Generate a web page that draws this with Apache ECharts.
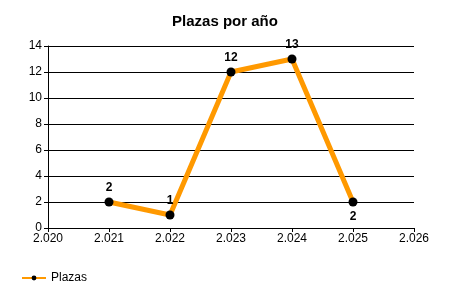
<!DOCTYPE html>
<html>
<head>
<meta charset="utf-8">
<script src="https://cdn.jsdelivr.net/npm/echarts@6/dist/echarts.min.js"></script>
<style>
  html, body { margin: 0; padding: 0; background: #fff; }
  #chart { width: 450px; height: 300px; }
</style>
</head>
<body>
<div id="chart"></div>
<script>
document.addEventListener('DOMContentLoaded', function() {

    const years = [2021, 2022, 2023, 2024, 2025];
    const plazas = [2, 1, 12, 13, 2];
    // label goes under the point for these indexes
    const labelBelow = [4];

    const fmtYear = v => {
        const s = String(v);
        return s.slice(0, 1) + '.' + s.slice(1);
    };

    const chart = echarts.init(document.getElementById('chart'));

    chart.setOption({
        animation: false,
        textStyle: { fontFamily: 'Liberation Sans, Arial, sans-serif' },
        title: {
            text: 'Plazas por año',
            left: 'center',
            top: 9,
            textStyle: { fontSize: 15, fontWeight: 'bold', color: '#000' }
        },
        legend: {
            left: 16,
            top: 267,
            itemWidth: 24,
            itemHeight: 6,
            itemGap: 5,
            textStyle: { fontSize: 12, color: '#000' },
            data: ['Plazas']
        },
        grid: {
            left: 48,
            right: 36,
            top: 46,
            bottom: 72
        },
        xAxis: {
            type: 'value',
            min: 2020,
            max: 2026,
            interval: 1,
            splitLine: { show: false },
            axisLine: { lineStyle: { color: '#000' } },
            axisTick: { show: true, length: 4, lineStyle: { color: '#000' } },
            axisLabel: { formatter: fmtYear, color: '#000', fontSize: 12, margin: 5 }
        },
        yAxis: {
            type: 'value',
            min: 0,
            max: 14,
            interval: 2,
            axisLine: { show: true, lineStyle: { color: '#000' } },
            axisTick: { show: true, length: 4, lineStyle: { color: '#000' } },
            splitLine: { lineStyle: { color: '#000', width: 1 } },
            axisLabel: { color: '#000', fontSize: 12, margin: 6 }
        },
        series: [{
            name: 'Plazas',
            type: 'line',
            data: years.map((y, i) => ({
                value: [y, plazas[i]],
                label: { position: labelBelow.includes(i) ? 'bottom' : 'top' }
            })),
            symbol: 'circle',
            symbolSize: 9,
            itemStyle: { color: '#000' },
            lineStyle: { color: '#FF9900', width: 5 },
            label: {
                show: true,
                fontSize: 12,
                fontWeight: 'bold',
                color: '#000',
                distance: 4,
                formatter: p => p.value[1]
            }
        }]
    });

});
</script>
</body>
</html>
